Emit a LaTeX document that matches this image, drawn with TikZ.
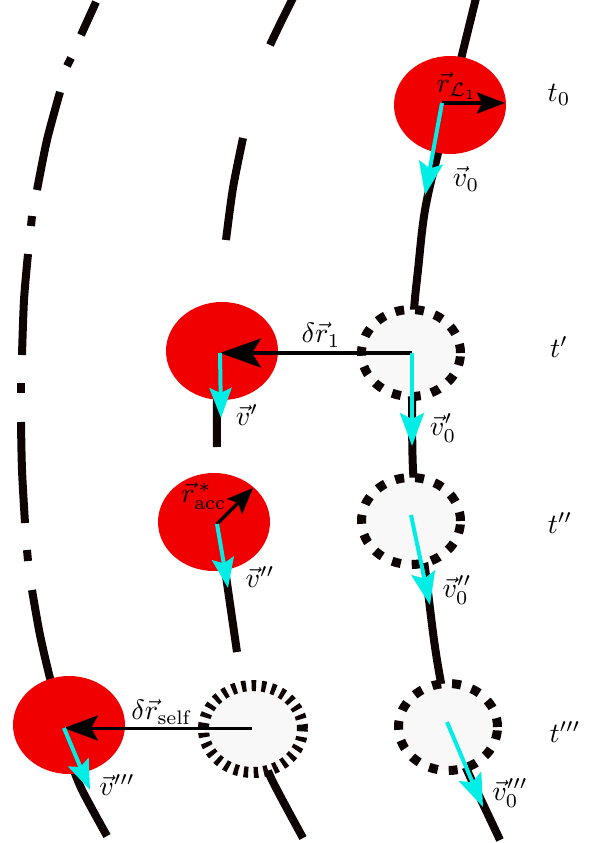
\documentclass[tikz,border=0pt]{standalone}
\usetikzlibrary{arrows.meta,shapes.geometric}
\definecolor{ballred}{RGB}{240,0,0}
\definecolor{velcyan}{RGB}{0,238,230}
\definecolor{trail}{RGB}{14,4,4}
\definecolor{ghostfill}{RGB}{248,248,248}
\begin{document}
\begin{tikzpicture}[x=1pt,y=-1pt,
  trailline/.style={draw=trail, line width=8pt, line cap=butt},
  realball/.style={ellipse, fill=ballred, minimum width=112pt, minimum height=98pt, inner sep=0pt},
  ghostball/.style={ellipse, fill=ghostfill, draw=trail, line width=9pt, dash pattern=on 9pt off 11pt, minimum width=99pt, minimum height=87pt, inner sep=0pt},
  ghostfine/.style={ellipse, fill=ghostfill, draw=trail, line width=11pt, dash pattern=on 4.5pt off 5.5pt, minimum width=99pt, minimum height=87pt, inner sep=0pt},
  velarrow/.style={draw=velcyan, line width=4pt, -{Stealth[length=33pt,width=24pt,inset=6pt]}},
  disparrow/.style={draw=black, line width=3.5pt},
  lbl/.style={scale=2.8, inner sep=0pt}
]
\useasboundingbox (0,0) rectangle (592,843);

% left dash-dot trajectory
\draw[trailline] (96,2) -- (81,35);
\draw[trailline] (71,58) -- (67,66);
\draw[trailline] plot[smooth] coordinates {(60,92) (47,140) (37,190)};
\draw[trailline] (32,216) -- (31,226);
\draw[trailline] plot[smooth] coordinates {(28,254) (24,300) (22,355)};
\draw[trailline] (21,383) -- (21,393);
\draw[trailline] plot[smooth] coordinates {(21,422) (22,470) (25,523)};
\draw[trailline] (27,550) -- (28,561);
\draw[trailline] plot[smooth] coordinates {(32,590) (40,635) (50,678) (58,705)};
\draw[trailline] plot[smooth] coordinates {(70,760) (82,790) (107,836)};

% middle dashed trajectory
\draw[trailline] plot[smooth] coordinates {(293,-2) (281,22) (270,45)};
\draw[trailline] plot[smooth] coordinates {(243,138) (233,188) (226,240)};
\draw[trailline] plot[smooth] coordinates {(219,340) (217,400) (217,447)};
\draw[trailline] plot[smooth] coordinates {(221,540) (227,583) (237,652)};
\draw[trailline] plot[smooth] coordinates {(258,745) (272,780) (303,838)};

% right solid trajectory
\draw[trailline] plot[smooth, tension=0.6] coordinates {(476,-2) (462,55) (450,105) (438,153) (425,210) (418,270) (414,310) (412,353) (412,400) (413,470) (418,521) (425,568) (434,640) (441,683) (450,730) (467,770) (483,804) (500,840)};

% balls
\node[realball] (r0) at (450,105) {};
\node[realball] (r1) at (222,351) {};
\node[realball] (r2) at (214,522) {};
\node[realball] (r3) at (69,725) {};
\node[ghostball] (g1) at (411,353) {};
\node[ghostball] (g2) at (411,521) {};
\node[ghostball] (g3) at (448,727) {};
\node[ghostfine] (gf) at (253,729) {};

% anchor coordinates
\coordinate (c0) at (442,103);
\coordinate (c0r) at (505,103);
\coordinate (c0v) at (425,195);
\coordinate (g1s) at (412,353);
\coordinate (c1) at (220,353);
\coordinate (c1v) at (221,418);
\coordinate (g1v) at (412,446);
\coordinate (c2) at (217,524);
\coordinate (c2r) at (253,488);
\coordinate (c2v) at (228,588);
\coordinate (g2s) at (411,515);
\coordinate (g2v) at (430,605);
\coordinate (gfs) at (252,728);
\coordinate (c3) at (64,728);
\coordinate (c3v) at (90,790);
\coordinate (g3s) at (447,722);
\coordinate (g3v) at (483,807);

% displacement arrows
\draw[disparrow, -{Stealth[length=28pt,width=21pt,inset=5pt]}] (c0) -- (c0r);
\draw[disparrow, -{Stealth[length=41pt,width=29pt,inset=9pt]}] (g1s) -- (c1);
\draw[disparrow, -{Stealth[length=26pt,width=21pt,inset=5pt]}] (c2) -- (c2r);
\draw[disparrow, line width=3pt, -{Stealth[length=34pt,width=25pt,inset=7pt]}] (gfs) -- (c3);

% velocity arrows
\draw[velarrow] (c0) -- (c0v);
\draw[velarrow, -{Stealth[length=30pt,width=22pt,inset=5pt]}] (c1) -- (c1v);
\draw[velarrow] (g1s) -- (g1v);
\draw[velarrow, -{Stealth[length=30pt,width=22pt,inset=5pt]}] (c2) -- (c2v);
\draw[velarrow] (g2s) -- (g2v);
\draw[velarrow, -{Stealth[length=30pt,width=22pt,inset=5pt]}] (c3) -- (c3v);
\draw[velarrow] (g3s) -- (g3v);

% labels
\node[lbl] (lr0) at (457,86) {$\vec r_{\mathcal{L}_1}$};
\node[lbl] (lv0) at (466,179) {$\vec v_0$};
\node[lbl] (ldr1) at (321,335) {$\delta\vec r_1$};
\node[lbl] (lv1) at (247,415) {$\vec v'$};
\node[lbl] (lv01) at (443,428) {$\vec v_0'$};
\node[lbl] (lracc) at (204,496) {$\vec r^{\,*}_{\mathrm{acc}}$};
\node[lbl] (lv2) at (260,577) {$\vec v''$};
\node[lbl] (lv02) at (457,590) {$\vec v_0''$};
\node[lbl] (ldrs) at (162,712) {$\delta\vec r_{\mathrm{self}}$};
\node[lbl] (lv3) at (117,785) {$\vec v'''$};
\node[lbl] (lv03) at (510,793) {$\vec v_0'''$};
\node[lbl] (t0) at (559,95) {$t_0$};
\node[lbl] (t1) at (559,347) {$t'$};
\node[lbl] (t2) at (560,523) {$t''$};
\node[lbl] (t3) at (565,732) {$t'''$};
\end{tikzpicture}
\end{document}
